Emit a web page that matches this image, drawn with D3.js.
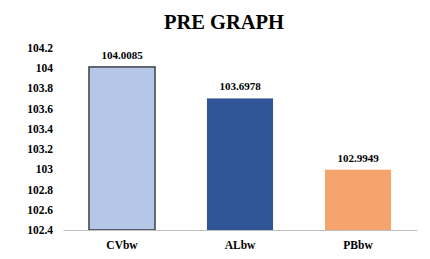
<!DOCTYPE html>
<html>
<head>
<meta charset="utf-8">
<script src="https://cdn.jsdelivr.net/npm/d3@7"></script>
<style>
  body { margin: 0; background: #fff; }
  svg text { font-family: "Liberation Serif", "Times New Roman", serif; font-weight: bold; fill: #000; }
</style>
</head>
<body>
<svg id="chart" width="430" height="259"></svg>
<script>
var categories = ["CVbw", "ALbw", "PBbw"];
var values = [104.0085, 103.6978, 102.9949];
var valueLabels = ["104.0085", "103.6978", "102.9949"];
var barColors = ["#b4c7e7", "#2f5597", "#f4a46c"];
var yTicks = [102.4, 102.6, 102.8, 103, 103.2, 103.4, 103.6, 103.8, 104, 104.2];

var svg = d3.select("#chart"),
    margin = {top: 47.5, right: 13, bottom: 29, left: 63},
    width = 430 - margin.left - margin.right,
    height = 259 - margin.top - margin.bottom,
    g = svg.append("g").attr("transform", "translate(" + margin.left + "," + margin.top + ")");

svg.append("text")
    .attr("x", 224)
    .attr("y", 29)
    .attr("text-anchor", "middle")
    .style("font-size", "20.5px")
    .text("PRE GRAPH");

var x = d3.scaleBand()
    .domain(categories)
    .range([0, width])
    .paddingInner(0.44)
    .paddingOuter(0.22);

var y = d3.scaleLinear()
    .domain([102.4, 104.2])
    .range([height, 0]);

// y axis: labels only
var yAxis = g.append("g")
    .call(d3.axisLeft(y).tickValues(yTicks).tickSize(0).tickPadding(10).tickFormat(function (d) { return String(+d.toFixed(1)); }));
yAxis.select(".domain").remove();
yAxis.selectAll("text").style("font-size", "11.5px").attr("fill", "#000");

g.selectAll("rect.bar")
    .data(values)
    .enter().append("rect")
    .attr("class", "bar")
    .attr("x", function (d, i) { return x(categories[i]); })
    .attr("y", function (d) { return y(d); })
    .attr("width", x.bandwidth())
    .attr("height", function (d) { return height - y(d); })
    .attr("fill", function (d, i) { return barColors[i]; })
    .attr("stroke", function (d, i) { return i == 0 ? "#1a1a1a" : "none"; })
    .attr("stroke-width", 1.2);

g.selectAll("text.val")
    .data(values)
    .enter().append("text")
    .attr("class", "val")
    .attr("x", function (d, i) { return x(categories[i]) + x.bandwidth() / 2; })
    .attr("y", function (d) { return y(d) - 8; })
    .attr("text-anchor", "middle")
    .style("font-size", "11px")
    .text(function (d, i) { return valueLabels[i]; });

// x axis
var xAxis = g.append("g")
    .attr("transform", "translate(0," + height + ")")
    .call(d3.axisBottom(x).tickSize(0).tickPadding(11));
xAxis.select(".domain").attr("stroke", "#bfbfbf").attr("stroke-width", 1);
xAxis.selectAll("text").style("font-size", "11.5px").attr("fill", "#000");
</script>
</body>
</html>
